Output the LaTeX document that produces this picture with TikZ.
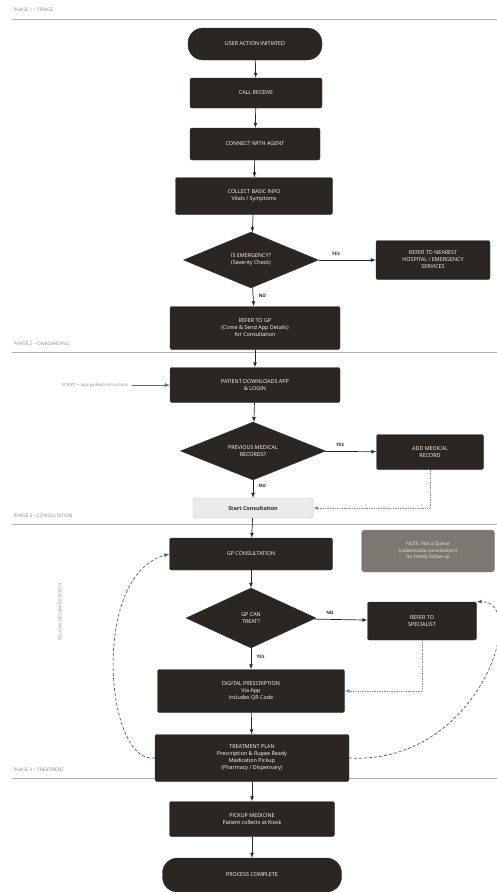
\documentclass[tikz,border=0pt]{standalone}
\usepackage{fontspec}
\setsansfont{Open Sans}
\usetikzlibrary{arrows,shapes}

\definecolor{boxdark}{HTML}{2B2622}
\definecolor{notegray}{HTML}{7D7771}
\definecolor{phasegray}{HTML}{8A8A8A}

\tikzset{
  box/.style={rectangle, rounded corners=2pt, fill=boxdark, draw=black!80,
    text=white, align=center, inner sep=1pt,
    font=\sffamily\fontsize{5.4}{7}\selectfont},
  pill/.style={box, rounded corners=15pt},
  decide/.style={diamond, aspect=2.4, fill=boxdark, draw=black!80,
    text=white, align=center, inner sep=0pt,
    font=\sffamily\fontsize{5.4}{7}\selectfont},
  lightbox/.style={rectangle, rounded corners=3pt, fill=black!8, draw=black!25,
    text=black!85, font=\sffamily\bfseries\fontsize{5.4}{6}\selectfont},
  notebox/.style={rectangle, rounded corners=3pt, fill=notegray, draw=black!45,
    text=white!92!black, align=center, inner sep=1pt,
    font=\sffamily\fontsize{4.8}{6.3}\selectfont},
  phase/.style={anchor=west, text=phasegray, font=\sffamily\fontsize{4.8}{5}\selectfont},
  lbl/.style={text=black!85, font=\sffamily\bfseries\fontsize{4.5}{5}\selectfont},
  flow/.style={->, >=latex, black!85, line width=0.7pt},
  dotflow/.style={->, >=latex, black!45, densely dotted, line width=0.7pt},
  loopflow/.style={->, >=latex, black!65, densely dashed, line width=0.7pt}
}

\begin{document}
\begin{tikzpicture}[x=1pt,y=-1pt]

\useasboundingbox (0,0) rectangle (497,892);

% phases
\node[phase] (p1) at (10,10) {PHASE 1 -- TRIAGE};
\node[phase] (p2) at (10,344) {PHASE 2 -- ONBOARDING};
\node[phase] (p3) at (10,516) {PHASE 3 -- CONSULTATION};
\node[phase] (p4) at (10,770) {PHASE 4 -- TREATMENT};
\draw[phasegray!70, line width=0.4pt] (12,19) -- (497,19);
\draw[phasegray!70, line width=0.4pt] (12,352) -- (497,352);
\draw[phasegray!70, line width=0.4pt] (12,524) -- (497,524);
\draw[phasegray!70, line width=0.4pt] (12,778) -- (497,778);

% phase 1
\node[pill, minimum width=134pt, minimum height=32pt] (start) at (255,44) {USER ACTION INITIATED};
\node[box, minimum width=132pt, minimum height=30pt] (call) at (256,93) {CALL RECEIVE};
\node[box, minimum width=130pt, minimum height=32pt] (agent) at (255,144) {CONNECT WITH AGENT};
\node[box, minimum width=157pt, minimum height=37pt] (info) at (254,196) {COLLECT BASIC INFO\\Vitals / Symptoms};
\node[decide, minimum width=135pt, minimum height=56pt] (emerg) at (251,260) {IS EMERGENCY?\\(Severity Check)};
\node[box, minimum width=114pt, minimum height=39pt] (hosp) at (433,260) {REFER TO NEAREST\\HOSPITAL / EMERGENCY\\SERVICES};
\node[box, minimum width=170pt, minimum height=43pt] (gp) at (255,328) {REFER TO GP\\(Come \& Send App Details)\\for Consultation};

\draw[flow] (start) -- (call);
\draw[flow] (call) -- (agent);
\draw[flow] (agent) -- (info);
\draw[flow] (info) -- (emerg);
\draw[flow] (emerg) -- node[lbl, above=1pt, pos=0.3] {YES} (hosp);
\draw[flow] (emerg) -- node[lbl, right=2pt, pos=0.45] {NO} (gp);

% phase 2
\node[box, minimum width=170pt, minimum height=35pt] (app) at (255,385) {PATIENT DOWNLOADS APP\\\& LOGIN};
\node[phase, anchor=center, font=\sffamily\fontsize{4.3}{5}\selectfont] (script) at (95,385) {SCRIPT + app-guided instructions};
\node[decide, minimum width=145pt, minimum height=58pt] (prev) at (253,451) {PREVIOUS MEDICAL\\RECORDS?};
\node[box, minimum width=107pt, minimum height=35pt] (rec) at (430,452) {ADD MEDICAL\\RECORD};
\node[lightbox, minimum width=120pt, minimum height=20pt] (startc) at (253,508) {Start Consultation};
\coordinate (recturn) at (rec.south |- startc.east);

\draw[flow] (gp) -- (app);
\draw[flow, black!60] (script) -- (app);
\draw[flow] (app) -- (prev);
\draw[flow] (prev) -- node[lbl, above=1pt, pos=0.3] {YES} (rec);
\draw[flow] (prev) -- node[lbl, right=2pt, pos=0.3] {NO} (startc);
\draw[dotflow] (rec.south) -- (recturn) -- (startc.east);

% phase 3
\node[box, minimum width=163pt, minimum height=32pt] (cons) at (251,554) {GP CONSULTATION};
\node[notebox, minimum width=133pt, minimum height=42pt] (note) at (428,551) {NOTE: Not a Queue\\(video/audio consultation)\\for timely follow-up};
\node[decide, minimum width=130pt, minimum height=60pt] (treat) at (251,618) {GP CAN\\TREAT?};
\node[box, minimum width=109pt, minimum height=38pt] (spec) at (422,621) {REFER TO\\SPECIALIST};
\node[box, minimum width=187pt, minimum height=43pt] (rx) at (251,691) {DIGITAL PRESCRIPTION\\Via App\\Includes QR Code};
\node[box, minimum width=194pt, minimum height=47pt] (plan) at (252,758) {TREATMENT PLAN\\Prescription \& Rupee Ready\\Medication Pickup\\(Pharmacy / Dispensary)};
\node[phase, anchor=center, rotate=90, font=\sffamily\fontsize{4.3}{5}\selectfont] (follow) at (60,612) {FOLLOW-UP CONSULTATION};
\coordinate (specturn) at (spec.south |- rx.east);

\draw[flow] (startc) -- (cons);
\draw[flow] (cons) -- (treat);
\draw[flow] (treat) -- node[lbl, above=1pt, pos=0.3] {NO} (spec);
\draw[flow] (treat) -- node[lbl, right=2pt, pos=0.4] {YES} (rx);
\draw[dotflow] (spec.south) -- (specturn) -- (rx.east);
\draw[flow] (rx) -- (plan);
\draw[loopflow] (plan.west) .. controls (105,765) and (90,575) .. (cons.west);
\draw[loopflow] (plan.east) .. controls (480,765) and (530,600) .. (spec.north east);

% phase 4
\node[box, minimum width=165pt, minimum height=35pt] (pick) at (252,819) {PICKUP MEDICINE\\Patient collects at Kiosk};
\node[pill, minimum width=179pt, minimum height=34pt] (done) at (252,875) {PROCESS COMPLETE};

\draw[flow] (plan) -- (pick);
\draw[flow] (pick) -- (done);

\end{tikzpicture}
\end{document}
